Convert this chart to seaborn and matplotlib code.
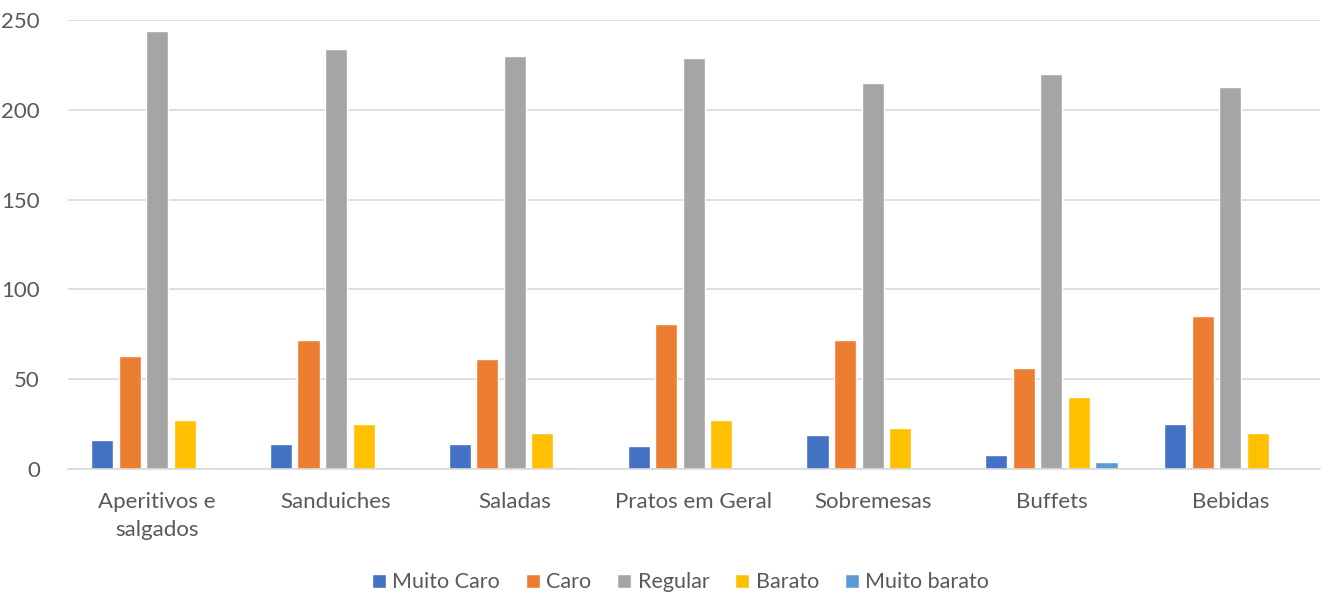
import matplotlib.pyplot as plt
import pandas as pd
import seaborn as sns
from matplotlib.patches import Patch

categories = ["Aperitivos e\nsalgados", "Sanduiches", "Saladas", "Pratos em Geral",
              "Sobremesas", "Buffets", "Bebidas"]
series_names = ["Muito Caro", "Caro", "Regular", "Barato", "Muito barato"]
muito_caro = [16, 14, 14, 13, 19, 8, 25]
caro = [63, 72, 61, 81, 72, 56, 85]
regular = [244, 234, 230, 229, 215, 220, 213]
barato = [27, 25, 20, 27, 23, 40, 20]
muito_barato = [0, 1, 1, 0, 0, 4, 0]

colors = ["#4472C4", "#ED7D31", "#A5A5A5", "#FFC000", "#5B9BD5"]

rows = []
for name, values in zip(series_names, [muito_caro, caro, regular, barato, muito_barato]):
    for cat, v in zip(categories, values):
        rows.append({"categoria": cat, "serie": name, "valor": v})
df = pd.DataFrame(rows)

sns.set_theme(style="white")
plt.rcParams["font.family"] = ["Lato", "DejaVu Sans"]
text_color = "#595959"

fig = plt.figure(figsize=(13.29, 5.95), dpi=100)
ax = fig.add_axes([0.051, 0.212, 0.942, 0.754])

sns.barplot(data=df, x="categoria", y="valor", hue="serie", order=categories,
            hue_order=series_names, palette=colors, width=0.77, gap=0.2,
            saturation=1, ax=ax, legend=False)

ax.set_ylim(0, 250)
ax.set_yticks(range(0, 251, 50))
ax.yaxis.grid(True, color="#D9D9D9", linewidth=1.2)
ax.set_axisbelow(True)
for side in ["top", "right", "left"]:
    ax.spines[side].set_visible(False)
ax.spines["bottom"].set_color("#D9D9D9")
ax.spines["bottom"].set_linewidth(1.2)
ax.set_xlabel("")
ax.set_ylabel("")
ax.tick_params(axis="both", length=0, labelsize=16, colors=text_color)
ax.tick_params(axis="x", pad=17)
ax.tick_params(axis="y", pad=20)
for label in ax.get_xticklabels():
    label.set_linespacing(1.45)

handles = [Patch(facecolor=c, label=n) for c, n in zip(colors, series_names)]
fig.legend(handles=handles, loc="lower center", ncol=5, frameon=False,
           bbox_to_anchor=(0.512, -0.028), fontsize=15.5, labelcolor=text_color,
           handlelength=0.65, handleheight=0.65, handletextpad=0.3, columnspacing=1.2)

fig.savefig("out.png", dpi=100)
